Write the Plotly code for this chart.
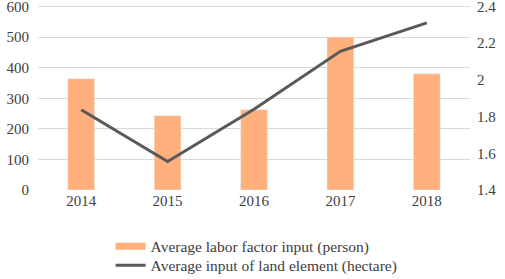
import plotly.graph_objects as go

years = ["2014", "2015", "2016", "2017", "2018"]
labor = [364, 243, 262, 500, 380]
land = [1.837, 1.555, 1.84, 2.156, 2.311]
left_ticks = [0, 100, 200, 300, 400, 500, 600]
right_ticks = [1.4, 1.6, 1.8, 2.0, 2.2, 2.4]
right_labels = ["1.4", "1.6", "1.8", "2", "2.2", "2.4"]

bar_color = "#FFB07D"
line_color = "#595959"
grid_color = "#D9D9D9"
font = dict(family='"Liberation Serif", "Times New Roman", serif', size=15, color="#404040")
legend_font = dict(family='"Liberation Serif", "Times New Roman", serif', size=15.5, color="#404040")

fig = go.Figure()
fig.add_trace(go.Bar(x=years, y=labor, marker_color=bar_color, showlegend=False,
                     name="Average labor factor input (person)"))
fig.add_trace(go.Scatter(x=[None], y=[None], mode="lines",
                         line=dict(color=bar_color, width=7),
                         name="Average labor factor input (person)", legend="legend"))
fig.add_trace(go.Scatter(x=years, y=land, mode="lines", yaxis="y2",
                         line=dict(color=line_color, width=3),
                         name="Average input of land element (hectare)", legend="legend2"))

# top gridline (plotly may drop gridlines lying near the edge of the plot)
fig.add_hline(y=left_ticks[-1], line_color="#CFCFCF", line_width=1, layer="below")

leg_common = dict(orientation="v", xref="container", yref="container",
                  xanchor="left", yanchor="top", font=legend_font, itemwidth=30,
                  bgcolor="rgba(0,0,0,0)")

fig.update_layout(
    width=505, height=279,
    margin=dict(l=38, r=35, t=3, b=89, autoexpand=False),
    paper_bgcolor="white", plot_bgcolor="white",
    font=font,
    bargap=0.69,
    xaxis=dict(showgrid=False, showline=False, ticks="", tickfont=font),
    yaxis=dict(range=[0, 611.44], tickvals=left_ticks, showgrid=True,
               gridcolor=grid_color, gridwidth=1, zeroline=False, tickfont=font,
               ticklabelstandoff=8, ticklabeloverflow="allow"),
    yaxis2=dict(range=[1.4, 2.41907], tickvals=right_ticks, ticktext=right_labels,
                overlaying="y", side="right", showgrid=False, zeroline=False,
                tickfont=font, ticklabelstandoff=6, ticklabeloverflow="allow"),
    legend=dict(x=0.219, y=0.177, **leg_common),
    legend2=dict(x=0.219, y=0.109, **leg_common),
)

fig.write_html("out.html", config={"displayModeBar": False},
               post_script="document.body.style.margin='0px';document.body.style.overflow='hidden';")
